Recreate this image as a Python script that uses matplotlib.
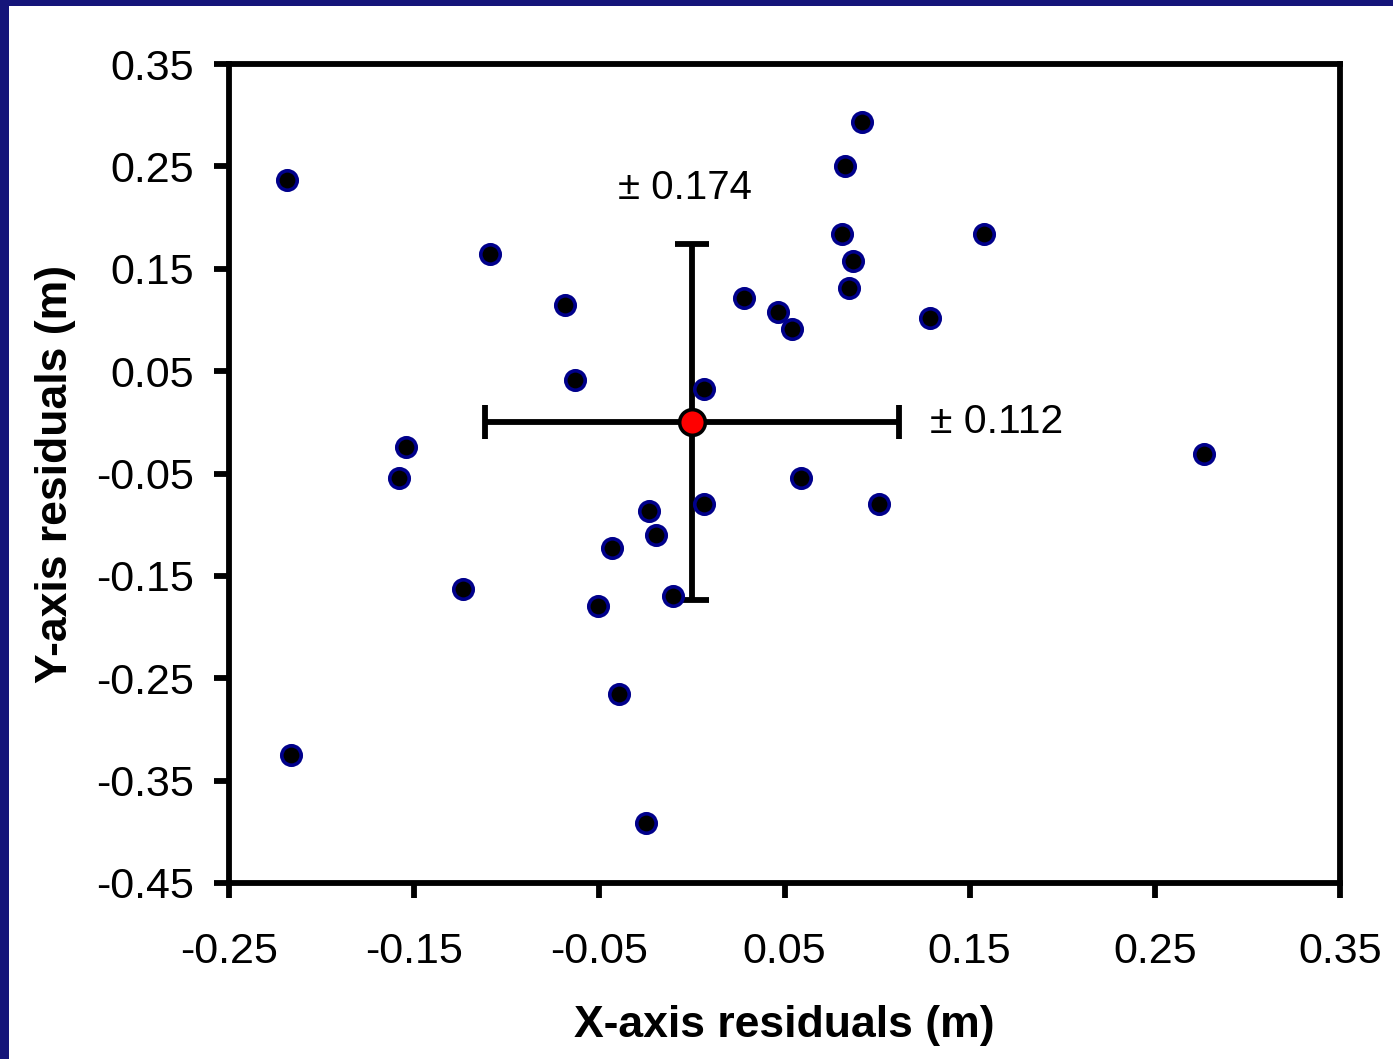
import matplotlib
matplotlib.use("Agg")
import matplotlib.pyplot as plt
from matplotlib.patches import Rectangle

plt.rcParams['font.family'] = ['Liberation Sans', 'DejaVu Sans']

x_resid = [-0.2187, -0.109, -0.0685, -0.0631, -0.1544, -0.1582, -0.1236, -0.2165,
           -0.0432, -0.0507, -0.0232, -0.0194, -0.0102, -0.0394, -0.0248, 0.0065,
           0.0065, 0.0281, 0.0465, 0.054, 0.0589, 0.0918, 0.0827, 0.081, 0.087,
           0.0848, 0.1286, 0.101, 0.1577, 0.2765]
y_resid = [0.2367, 0.1644, 0.1146, 0.0414, -0.024, -0.0543, -0.1627, -0.3248,
           -0.1227, -0.1793, -0.0865, -0.11, -0.1695, -0.2652, -0.3912, 0.0326,
           -0.0797, 0.1215, 0.1078, 0.0912, -0.0543, 0.2934, 0.2504, 0.184, 0.1576,
           0.1313, 0.102, -0.0797, 0.184, -0.0309]
mean_x, mean_y = 0.0, 0.0
sd_x, sd_y = 0.112, 0.174
x_ticks = [-0.25, -0.15, -0.05, 0.05, 0.15, 0.25, 0.35]
y_ticks = [0.35, 0.25, 0.15, 0.05, -0.05, -0.15, -0.25, -0.35, -0.45]

fig = plt.figure(figsize=(13.93, 10.59), dpi=100, facecolor='#15157a')
fig.patches.append(Rectangle((9/1393, 0), 1 - 9/1393, 1053/1059, transform=fig.transFigure,
                             facecolor='white', edgecolor='none', zorder=-10))
ax = fig.add_axes([229/1393, 176/1059, 1111/1393, 819/1059])
ax.set_facecolor('white')

ax.errorbar([mean_x], [mean_y], xerr=[sd_x], yerr=[sd_y], fmt='none', ecolor='black',
            elinewidth=4.2, capsize=12, capthick=4.2, zorder=3)
ax.plot(x_resid, y_resid, linestyle='none', marker='o', markersize=14,
        markerfacecolor='black', markeredgecolor='#00008b', markeredgewidth=2.6, zorder=4)
ax.plot([mean_x], [mean_y], linestyle='none', marker='o', markersize=18.5,
        markerfacecolor='red', markeredgecolor='black', markeredgewidth=2.6, zorder=5)

ax.text(-0.0036, 0.229, '± 0.174', fontsize=29, ha='center', va='center')
ax.text(0.1286, 0.0004, '± 0.112', fontsize=29.5, ha='left', va='center')

ax.set_xlim(-0.25, 0.35)
ax.set_ylim(-0.45, 0.35)
ax.set_xticks(x_ticks)
ax.set_yticks(y_ticks)
ax.set_xticklabels([f'{v:.2f}' for v in x_ticks])
ax.set_yticklabels([f'{v:.2f}' for v in y_ticks])
ax.tick_params(direction='out', length=11, width=4.2, labelsize=31)
ax.tick_params(axis='x', pad=24)
ax.tick_params(axis='y', pad=14)
for s in ax.spines.values():
    s.set_linewidth(4.2)
ax.set_xlabel('X-axis residuals (m)', fontsize=32, fontweight='bold', labelpad=24)
ax.set_ylabel('Y-axis residuals (m)', fontsize=32, fontweight='bold', labelpad=15)

fig.savefig('out.png', dpi=100, facecolor=fig.get_facecolor())
